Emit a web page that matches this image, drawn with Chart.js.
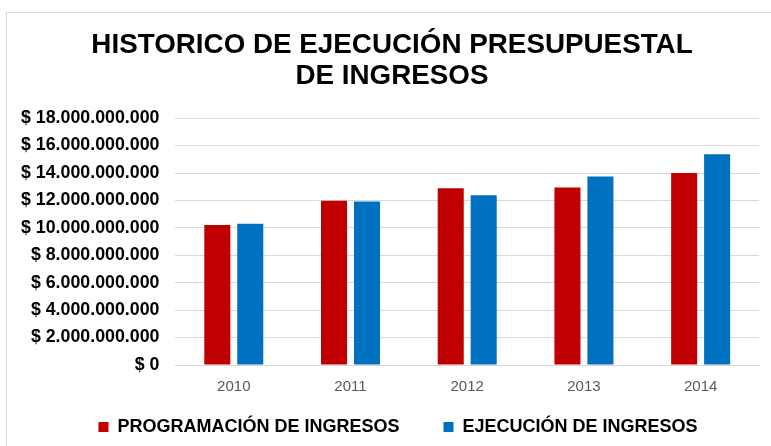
<!DOCTYPE html>
<html>
<head>
<meta charset="utf-8">
<script src="https://cdn.jsdelivr.net/npm/chart.js@4"></script>
<style>
    body { margin: 0; background: #fff; }
    #frame { position: absolute; left: 6px; top: 12px; width: 800px; height: 500px; border: 1px solid #d9d9d9; }
    #wrap { position: absolute; left: 0; top: 0; width: 771px; height: 446px; }
</style>
</head>
<body>
<div id="frame"></div>
<div id="wrap"><canvas id="chart"></canvas></div>
<script>
const years = ['2010', '2011', '2012', '2013', '2014']
const programacion = [10200000000, 11970000000, 12880000000, 12950000000, 14000000000]
const ejecucion = [10300000000, 11920000000, 12370000000, 13750000000, 15370000000]
const yTicks = [0, 2000000000, 4000000000, 6000000000, 8000000000, 10000000000, 12000000000, 14000000000, 16000000000, 18000000000]

const fmtPesos = (v) => '$ ' + String(v).replace(/\B(?=(\d{3})+(?!\d))/g, '.')

// legend: wide gap between items but a short box, and nudged right like the original
const LEGEND_CUT = 35
const boxTweaks = {
    id: 'boxTweaks',
    afterInit(chart) {
        const lg = chart.legend
        const fit = lg.fit.bind(lg)
        lg.fit = function () {
            fit()
            this.height -= LEGEND_CUT
        }
    },
    afterLayout(chart) {
        const lg = chart.legend
        lg.left += 16
        lg.right += 16
        lg.top -= LEGEND_CUT
        const tt = chart.titleBlock
        if (tt) {
            tt.left += 10
            tt.right += 10
        }
    }
}

window.addEventListener('load', () => {
    const ctx = document.getElementById('chart')
    new Chart(ctx, {
        type: 'bar',
        data: {
            labels: years,
            datasets: [
                {
                    label: 'PROGRAMACIÓN DE INGRESOS',
                    data: programacion,
                    backgroundColor: '#C00000'
                },
                {
                    label: 'EJECUCIÓN DE INGRESOS',
                    data: ejecucion,
                    backgroundColor: '#0070C0'
                }
            ]
        },
        plugins: [boxTweaks],
        options: {
            responsive: true,
            maintainAspectRatio: false,
            animation: false,
            datasets: {
                bar: {
                    categoryPercentage: 0.565,
                    barPercentage: 0.79
                }
            },
            layout: {
                padding: { left: 5, right: 12, top: 30, bottom: 0 }
            },
            plugins: {
                title: {
                    display: true,
                    text: ['HISTORICO DE EJECUCIÓN PRESUPUESTAL', 'DE INGRESOS'],
                    color: '#000',
                    font: { family: 'Liberation Sans', size: 27.8, weight: 'bold', lineHeight: 1.1 },
                    padding: { top: 0, bottom: 27 }
                },
                legend: {
                    position: 'bottom',
                    labels: {
                        color: '#000',
                        font: { family: 'Liberation Sans', size: 18, weight: 'bold', lineHeight: 1.2 },
                        boxWidth: 10,
                        boxHeight: 10,
                        padding: 44
                    }
                },
                tooltip: { enabled: false }
            },
            scales: {
                x: {
                    grid: { display: false, drawTicks: false },
                    border: { color: '#d9d9d9' },
                    ticks: {
                        color: '#595959',
                        font: { family: 'Liberation Sans', size: 15 },
                        padding: 13
                    }
                },
                y: {
                    min: 0,
                    max: 18000000000,
                    afterBuildTicks: (axis) => {
                        axis.ticks = yTicks.map(v => ({ value: v }))
                    },
                    grid: { color: '#d9d9d9', lineWidth: 1, drawTicks: false },
                    border: { display: false },
                    ticks: {
                        color: '#000',
                        font: { family: 'Liberation Sans', size: 17.8, weight: 'bold' },
                        padding: 16,
                        callback: (v) => fmtPesos(v)
                    }
                }
            }
        }
    })
})
</script>
</body>
</html>
